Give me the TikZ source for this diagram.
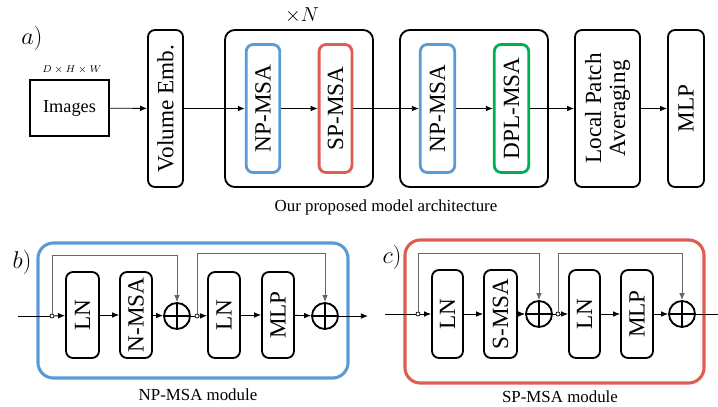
\documentclass[tikz,border=0pt]{standalone}
\usepackage{fontspec}
\setmainfont{Liberation Serif}
\usetikzlibrary{arrows.meta}
\definecolor{npblue}{RGB}{91,155,213}
\definecolor{spred}{RGB}{222,92,80}
\definecolor{dplgreen}{RGB}{0,176,80}
\tikzset{
  blk/.style={draw,line width=1.3pt,rounded corners=5pt,inner sep=0pt,rotate=90,
    font=\fontsize{16.5}{17}\selectfont,align=center},
  grp/.style={draw,line width=1.3pt,rounded corners=7pt,inner sep=0pt},
  modbox/.style={draw,line width=2.2pt,rounded corners=11pt,inner sep=0pt},
  oplus/.style={circle,draw,line width=1.3pt,minimum size=0.65cm,inner sep=0pt,
    path picture={\draw[line width=1.3pt]
      (path picture bounding box.north) -- (path picture bounding box.south)
      (path picture bounding box.west) -- (path picture bounding box.east);}},
  tap/.style={circle,draw,fill=white,line width=0.5pt,inner sep=0pt,minimum size=0.1cm},
  flow/.style={line width=0.6pt,-{Latex[length=5pt,width=4pt]}},
  fb/.style={line width=0.6pt,gray!80!black,-{Latex[length=5pt,width=4pt]}},
  lbl/.style={font=\fontsize{12}{14}\selectfont}
}
\begin{document}
\begin{tikzpicture}[x=0.025cm,y=-0.025cm]
  \useasboundingbox (0,0) rectangle (718,407);
  % a) overall architecture
  \node[font=\fontsize{17}{18}\selectfont] (tagA) at (32,38) {$a)$};
  \node[draw,line width=1.3pt,minimum width=1.975cm,minimum height=1.4cm,
    font=\fontsize{13}{14}\selectfont] (img) at (69.5,108) {Images};
  \node[font=\fontsize{7}{8}\selectfont] (dims) at (72,70) {$D\times H\times W$};
  \node[blk,minimum width=3.925cm,minimum height=0.875cm] (vol) at (165.5,108.5) {Volume Emb.};
  % first group (repeated N times)
  \node[grp,minimum width=3.7cm,minimum height=3.925cm] (grpA) at (299,108.5) {};
  \node[font=\fontsize{15}{16}\selectfont] (rep) at (302,15) {$\times N$};
  \node[blk,draw=npblue,line width=2pt,minimum width=3.2cm,minimum height=0.84cm] (npA) at (263,108.5) {NP-MSA};
  \node[blk,draw=spred,line width=2pt,minimum width=3.2cm,minimum height=0.82cm] (spA) at (335.5,108.5) {SP-MSA};
  % second group
  \node[grp,minimum width=3.7cm,minimum height=3.925cm] (grpB) at (474,108.5) {};
  \node[blk,draw=npblue,line width=2pt,minimum width=3.2cm,minimum height=0.86cm] (npB) at (437.5,108.5) {NP-MSA};
  \node[blk,draw=dplgreen,line width=2pt,minimum width=3.2cm,minimum height=0.86cm] (dpl) at (511.5,108.5) {DPL-MSA};
  \node[blk,minimum width=3.925cm,minimum height=1.625cm] (lpa) at (607.5,108.5) {Local Patch\\Averaging};
  \node[blk,minimum width=3.925cm,minimum height=0.9cm] (head) at (686,108.5) {MLP};
  \node[lbl] (capA) at (386,207) {Our proposed model architecture};
  \draw[flow] (img) -- (vol);
  \draw[flow] (vol) -- (npA);
  \draw[flow] (npA) -- (spA);
  \draw[flow] (spA) -- (npB);
  \draw[flow] (npB) -- (dpl);
  \draw[flow] (dpl) -- (lpa);
  \draw[flow] (lpa) -- (head);
  % b) NP-MSA module
  \node[modbox,draw=npblue,minimum width=7.75cm,minimum height=3.375cm] (modB) at (193,310.5) {};
  \node[font=\fontsize{17}{18}\selectfont] (tagB) at (22,262) {$b)$};
  \coordinate (inB) at (18,316);
  \node[tap] (tB1) at (52,316) {};
  \node[blk,minimum width=2.15cm,minimum height=0.825cm] (lnB1) at (82.5,315) {LN};
  \node[blk,minimum width=2.15cm,minimum height=0.8cm] (attB) at (136,315) {N-MSA};
  \node[oplus] (addB1) at (177,316) {};
  \node[tap] (tB2) at (197,316) {};
  \node[blk,minimum width=2.15cm,minimum height=0.8cm] (lnB2) at (224,315) {LN};
  \node[blk,minimum width=2.15cm,minimum height=0.8cm] (mlpB) at (278,315) {MLP};
  \node[oplus] (addB2) at (325,316) {};
  \coordinate (outB) at (368,316);
  \node[lbl] (capB) at (198,395) {NP-MSA module};
  \draw[line width=0.6pt] (inB) -- (tB1);
  \draw[flow] (tB1) -- (lnB1);
  \draw[flow] (lnB1) -- (attB);
  \draw[flow] (attB) -- (addB1);
  \draw[line width=0.6pt] (addB1) -- (tB2);
  \draw[flow] (tB2) -- (lnB2);
  \draw[flow] (lnB2) -- (mlpB);
  \draw[flow] (mlpB) -- (addB2);
  \draw[flow] (addB2) -- (outB);
  \draw[fb] (tB1) -- ++(0,-61) -| (addB1);
  \draw[fb] (tB2) -- ++(0,-63) -| (addB2);
  % c) SP-MSA module
  \node[modbox,draw=spred,minimum width=7.475cm,minimum height=3.575cm] (modC) at (554.5,311.5) {};
  \node[font=\fontsize{17}{18}\selectfont] (tagC) at (392,257) {$c)$};
  \coordinate (inC) at (385,314);
  \node[tap] (tC1) at (418,314) {};
  \node[blk,minimum width=2.2cm,minimum height=0.775cm] (lnC1) at (447.5,314) {LN};
  \node[blk,minimum width=2.2cm,minimum height=0.825cm] (attC) at (500.5,314) {S-MSA};
  \node[oplus] (addC1) at (539,314) {};
  \node[tap] (tC2) at (558,314) {};
  \node[blk,minimum width=2.2cm,minimum height=0.775cm] (lnC2) at (584.5,314) {LN};
  \node[blk,minimum width=2.2cm,minimum height=0.8cm] (mlpC) at (637,314) {MLP};
  \node[oplus] (addC2) at (682,314) {};
  \coordinate (outC) at (718,314);
  \node[lbl] (capC) at (560,397) {SP-MSA module};
  \draw[line width=0.6pt] (inC) -- (tC1);
  \draw[flow] (tC1) -- (lnC1);
  \draw[flow] (lnC1) -- (attC);
  \draw[flow] (attC) -- (addC1);
  \draw[line width=0.6pt] (addC1) -- (tC2);
  \draw[flow] (tC2) -- (lnC2);
  \draw[flow] (lnC2) -- (mlpC);
  \draw[flow] (mlpC) -- (addC2);
  \draw[line width=0.6pt] (addC2) -- (outC);
  \draw[fb] (tC1) -- ++(0,-61) -| (addC1);
  \draw[fb] (tC2) -- ++(0,-61) -| (addC2);
\end{tikzpicture}
\end{document}
